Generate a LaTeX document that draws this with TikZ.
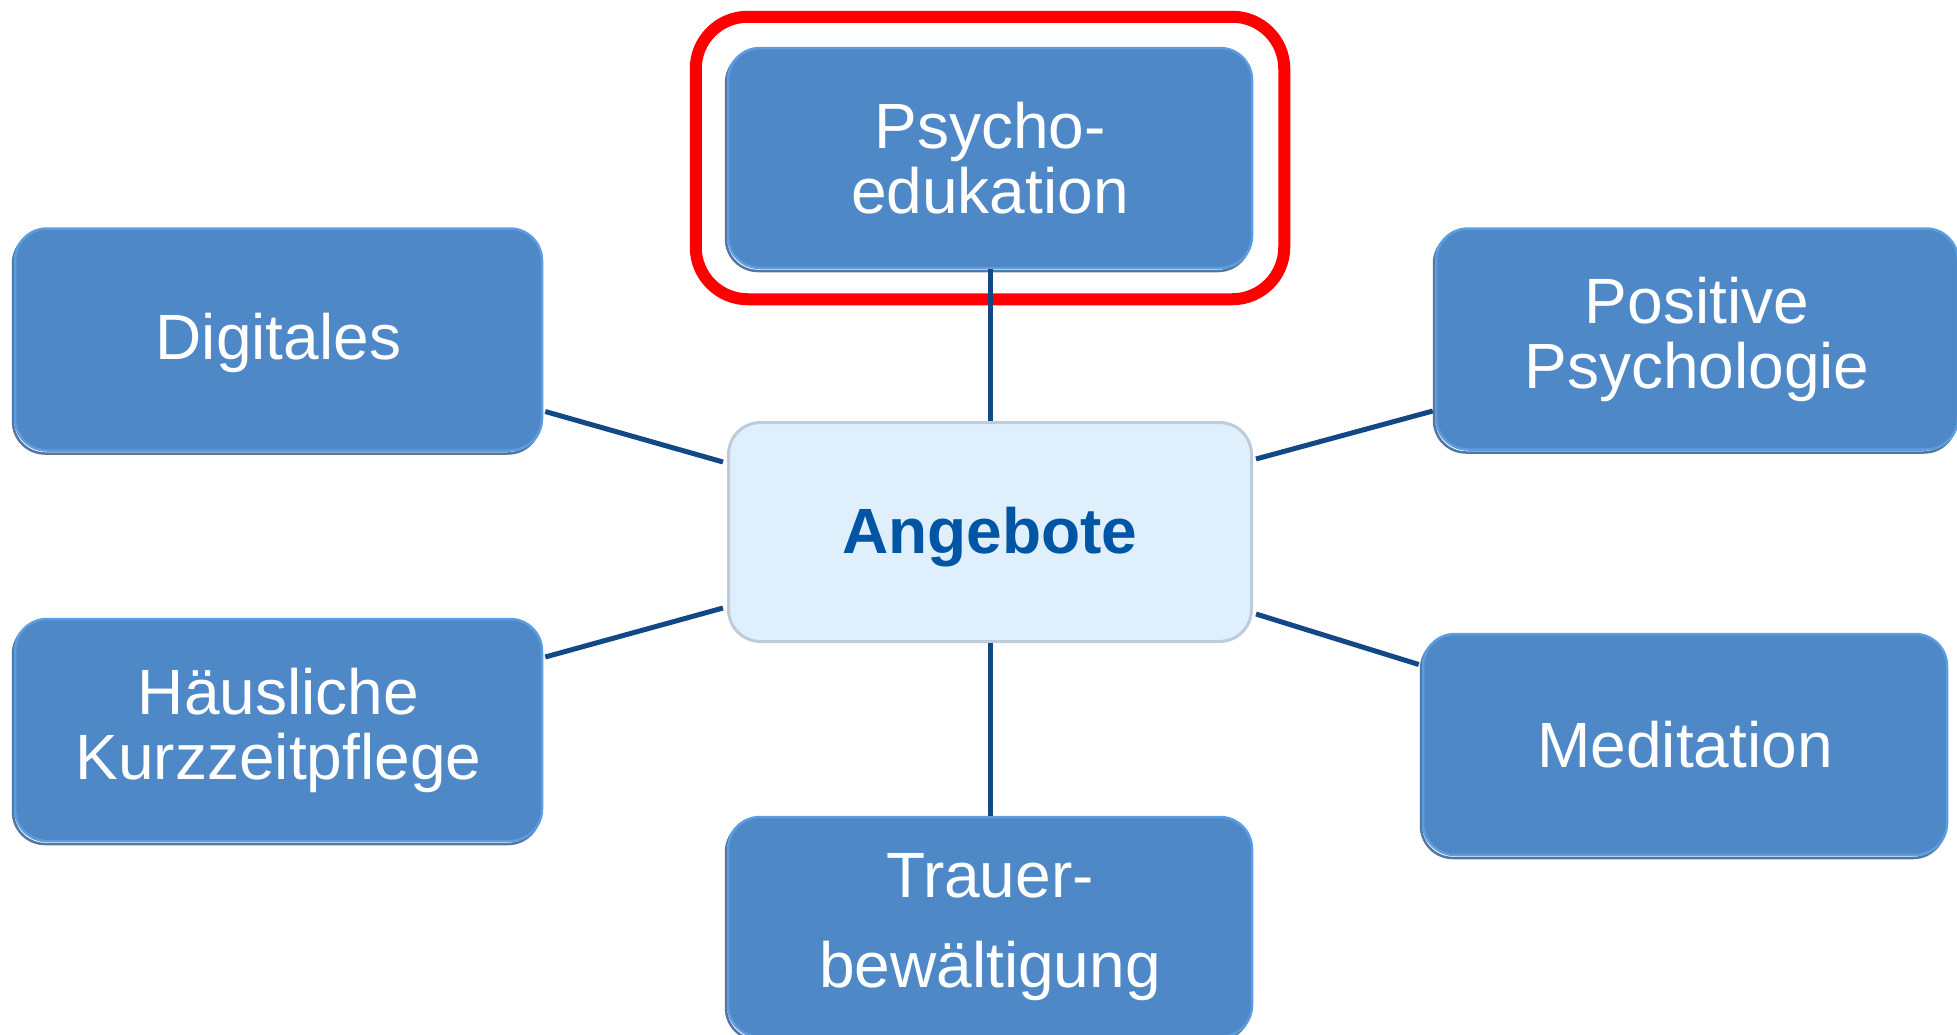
\documentclass[tikz,border=0pt]{standalone}
\usepackage{fontspec}
\setmainfont{Liberation Sans}
\usetikzlibrary{fit,calc}
\definecolor{boxfill}{RGB}{79,136,199}
\definecolor{boxedge}{RGB}{92,157,226}
\definecolor{boxshade}{RGB}{84,118,160}
\definecolor{angfill}{RGB}{223,240,252}
\definecolor{angedge}{RGB}{188,204,218}
\definecolor{angtext}{RGB}{0,85,165}
\definecolor{linkcol}{RGB}{17,72,133}
\begin{document}
\begin{tikzpicture}[x=1pt,y=-1pt,
  sbox/.style={rectangle, rounded corners=32pt, fill=boxfill, draw=boxedge,
    line width=2.5pt, text=white, align=center, inner sep=0pt,
    minimum width=524pt, minimum height=220pt,
    font=\fontsize{64}{65}\selectfont,
    preaction={draw=boxshade, line width=2.5pt, transform canvas={shift={(-2pt,-3pt)}}}},
  cbox/.style={rectangle, rounded corners=32pt, fill=angfill, draw=angedge,
    line width=3pt, text=angtext, align=center, inner sep=0pt,
    minimum width=523pt, minimum height=219pt, text height=57pt, text depth=13.5pt,
    font=\fontsize{64}{64}\selectfont\bfseries},
  link/.style={draw=linkcol, line width=5pt},
  highlight/.style={draw=red, line width=12pt, rounded corners=52pt, inner xsep=31pt, inner ysep=30pt}
]
\useasboundingbox (0,0) rectangle (1957,1034);

\node[cbox] (ang) at (990,532) {Angebote};
\node[sbox] (psy) at (990,158) {Psycho-\\edukation};
\node[sbox, minimum width=527pt, minimum height=222pt, text height=54pt, text depth=13.5pt] (dig) at (278.5,339.5) {Digitales};
\node[sbox, minimum width=522pt, minimum height=221pt] (pos) at (1697,339) {Positive\\Psychologie};
\node[sbox, minimum width=527pt, minimum height=222pt] (hau) at (278.5,730) {Häusliche\\Kurzzeitpflege};
\node[sbox, minimum height=221pt] (med) at (1685,744.5) {Meditation};
\node[sbox, font=\fontsize{64}{90}\selectfont] (tra) at (990,927) {Trauer-\\bewältigung};

\node[highlight, fit=(psy)] (hl) {};

\draw[link] (psy.south) -- (ang.north);
\draw[link] (ang.south) -- (tra.north);
\draw[link] ([xshift=2pt,yshift=-72pt]dig.east) -- ([xshift=-4pt,yshift=70pt]ang.west);
\draw[link] ([xshift=2pt,yshift=73pt]hau.east) -- ([xshift=-4pt,yshift=-76pt]ang.west);
\draw[link] ([xshift=3pt,yshift=73pt]ang.east) -- ([xshift=-2pt,yshift=-72pt]pos.west);
\draw[link] ([xshift=3pt,yshift=-82pt]ang.east) -- ([xshift=-3pt,yshift=80pt]med.west);
\end{tikzpicture}
\end{document}
